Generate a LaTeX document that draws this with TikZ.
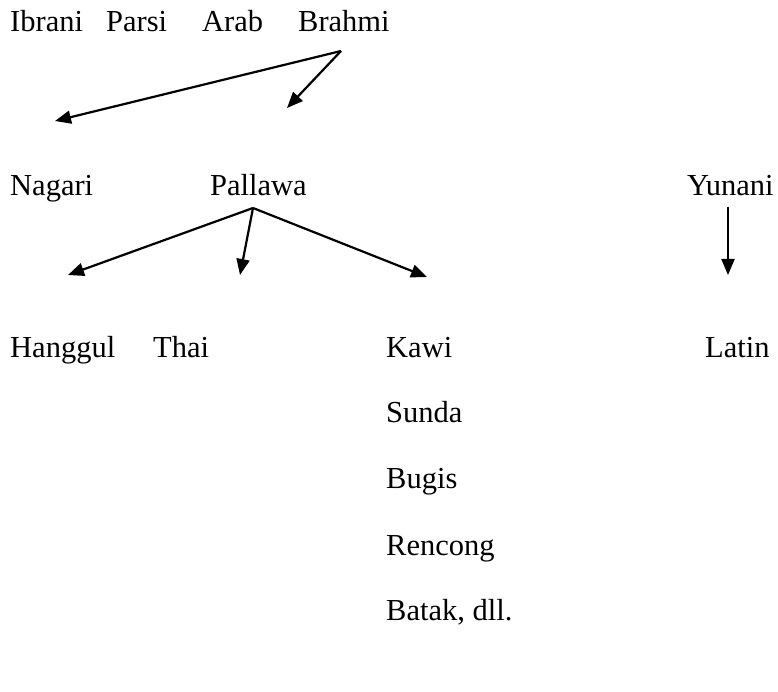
\documentclass[tikz,border=0pt]{standalone}
\usepackage{fontspec}
\setmainfont{Liberation Serif}
\usetikzlibrary{arrows.meta}
\begin{document}
\begin{tikzpicture}[x=1pt,y=-1pt,
  lbl/.style={anchor=base west,inner sep=0pt,font=\fontsize{30.5}{36}\selectfont},
  arr/.style={line width=2.2pt,-{Triangle[length=16pt,width=13pt]}}]
\useasboundingbox (0,0) rectangle (778,692);
% row 1
\node[lbl] (ibrani) at (10,32) {Ibrani};
\node[lbl] (parsi) at (106,32) {Parsi};
\node[lbl] (arab) at (202,32) {Arab};
\node[lbl] (brahmi) at (298,32) {Brahmi};
% row 2
\node[lbl] (nagari) at (10,196) {Nagari};
\node[lbl] (pallawa) at (210,196) {Pallawa};
\node[lbl] (yunani) at (687,196) {Yunani};
% row 3
\node[lbl] (hanggul) at (10,357) {Hanggul};
\node[lbl] (thai) at (153,357) {Thai};
\node[lbl] (kawi) at (386,357) {Kawi};
\node[lbl] (latin) at (705,357) {Latin};
% column under Kawi
\node[lbl] (sunda) at (386,422) {Sunda};
\node[lbl] (bugis) at (386,488) {Bugis};
\node[lbl] (rencong) at (386,555) {Rencong};
\node[lbl] (batak) at (386,620) {Batak, dll.};
% arrow points
\coordinate (bs) at (341,51);
\coordinate (be1) at (55,121);
\coordinate (be2) at (287,108);
\coordinate (ps) at (253,208);
\coordinate (pe1) at (68,275);
\coordinate (pe2) at (240,275);
\coordinate (pe3) at (427,277);
\coordinate (ys) at (728,207);
\coordinate (ye) at (728,275);
\draw[arr] (bs) -- (be1);
\draw[arr] (bs) -- (be2);
\draw[arr] (ps) -- (pe1);
\draw[arr] (ps) -- (pe2);
\draw[arr] (ps) -- (pe3);
\draw[arr] (ys) -- (ye);
\end{tikzpicture}
\end{document}
